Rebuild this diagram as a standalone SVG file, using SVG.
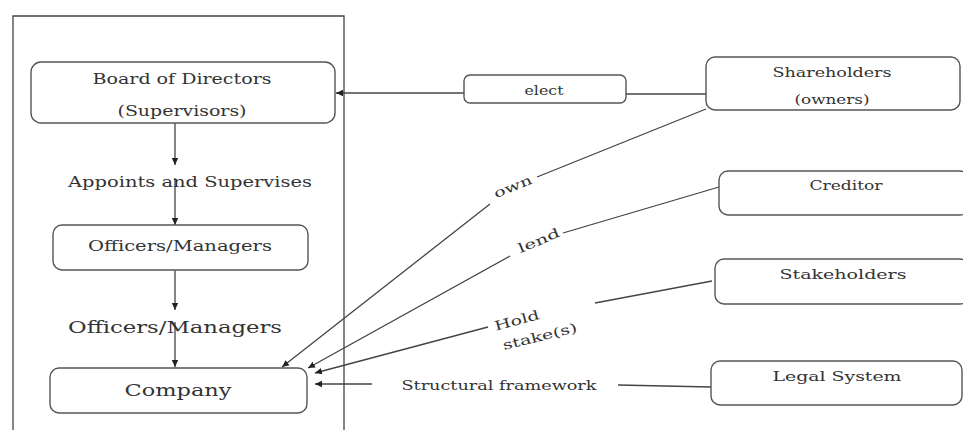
<svg xmlns="http://www.w3.org/2000/svg" width="963" height="430" viewBox="0 0 963 430">
<defs>
<marker id="arr" markerWidth="8" markerHeight="8" refX="7" refY="4" orient="auto" markerUnits="userSpaceOnUse">
<path d="M0,0.8 L7,4 L0,7.2 Z" fill="#222"/>
</marker>
<style>
.box{fill:#fff;stroke:#555;stroke-width:1.4}
.ln{fill:none;stroke:#444;stroke-width:1.3}
.t{font-family:"DejaVu Serif","Liberation Serif",serif;fill:#333;text-anchor:middle;lengthAdjust:spacingAndGlyphs}
</style>
</defs>
<rect width="963" height="430" fill="#fff"/>
<path class="ln" d="M13,430 V16 H344 V430"/>

<g id="connectors">
<line class="ln" x1="175" y1="123" x2="175" y2="165" marker-end="url(#arr)"/>
<line class="ln" x1="175" y1="178" x2="175" y2="225" marker-end="url(#arr)"/>
<line class="ln" x1="175" y1="270" x2="175" y2="310" marker-end="url(#arr)"/>
<line class="ln" x1="175" y1="322" x2="175" y2="367" marker-end="url(#arr)"/>
<line class="ln" x1="706" y1="94" x2="626" y2="94"/>
<line class="ln" x1="464" y1="93" x2="336" y2="93" marker-end="url(#arr)"/>
<line class="ln" x1="706" y1="109" x2="537" y2="177"/>
<line class="ln" x1="490" y1="204" x2="282" y2="367" marker-end="url(#arr)"/>
<line class="ln" x1="719" y1="187" x2="563" y2="233"/>
<line class="ln" x1="510" y1="256" x2="308" y2="368" marker-end="url(#arr)"/>
<line class="ln" x1="712" y1="281" x2="595" y2="303"/>
<line class="ln" x1="488" y1="327" x2="315" y2="373" marker-end="url(#arr)"/>
<line class="ln" x1="711" y1="387" x2="618" y2="385"/>
<line class="ln" x1="372" y1="384" x2="315" y2="384" marker-end="url(#arr)"/>
<text class="t" x="513" y="191" font-size="13" textLength="40" lengthAdjust="spacingAndGlyphs" transform="rotate(-22 513 187)">own</text>
<text class="t" x="539" y="245" font-size="13" textLength="44" lengthAdjust="spacingAndGlyphs" transform="rotate(-23 539 241)">lend</text>
<text class="t" x="517" y="325" font-size="13" textLength="46" lengthAdjust="spacingAndGlyphs" transform="rotate(-15 517 321)">Hold</text>
<text class="t" x="540" y="341" font-size="13" textLength="76" lengthAdjust="spacingAndGlyphs" transform="rotate(-14 540 337)">stake(s)</text>
<text class="t" x="499" y="390" font-size="13" textLength="195" lengthAdjust="spacingAndGlyphs">Structural framework</text>
<text class="t" x="190" y="187" font-size="15" textLength="244" lengthAdjust="spacingAndGlyphs">Appoints and Supervises</text>
<text class="t" x="175" y="333" font-size="16" textLength="214" lengthAdjust="spacingAndGlyphs">Officers/Managers</text>
</g>

<g id="board">
<rect class="box" x="31" y="62" width="304" height="61" rx="10"/>
<text class="t" x="182" y="84" font-size="15" textLength="179" lengthAdjust="spacingAndGlyphs">Board of Directors</text>
<text class="t" x="182" y="116" font-size="15" textLength="129" lengthAdjust="spacingAndGlyphs">(Supervisors)</text>
</g>
<g id="officers">
<rect class="box" x="53" y="225" width="255" height="45" rx="9"/>
<text class="t" x="180" y="251" font-size="14" textLength="184" lengthAdjust="spacingAndGlyphs">Officers/Managers</text>
</g>
<g id="company">
<rect class="box" x="50" y="368" width="257" height="45" rx="9"/>
<text class="t" x="178" y="396" font-size="17" textLength="107" lengthAdjust="spacingAndGlyphs">Company</text>
</g>
<g id="elect">
<rect class="box" x="464" y="75" width="162" height="28" rx="6"/>
<text class="t" x="544" y="95" font-size="12" textLength="39" lengthAdjust="spacingAndGlyphs">elect</text>
</g>
<g id="shareholders">
<rect class="box" x="706" y="57" width="254" height="53" rx="9"/>
<text class="t" x="832" y="77" font-size="13" textLength="119" lengthAdjust="spacingAndGlyphs">Shareholders</text>
<text class="t" x="832" y="104" font-size="13" textLength="75" lengthAdjust="spacingAndGlyphs">(owners)</text>
</g>
<g id="creditor">
<rect class="box" x="719" y="171" width="250" height="44" rx="9"/>
<text class="t" x="846" y="190" font-size="13" textLength="73" lengthAdjust="spacingAndGlyphs">Creditor</text>
</g>
<g id="stakeholders">
<rect class="box" x="715" y="259" width="254" height="45" rx="9"/>
<text class="t" x="843" y="279" font-size="13" textLength="127" lengthAdjust="spacingAndGlyphs">Stakeholders</text>
</g>
<g id="legal">
<rect class="box" x="711" y="361" width="251" height="44" rx="9"/>
<text class="t" x="837" y="381" font-size="13" textLength="129" lengthAdjust="spacingAndGlyphs">Legal System</text>
</g>
</svg>
